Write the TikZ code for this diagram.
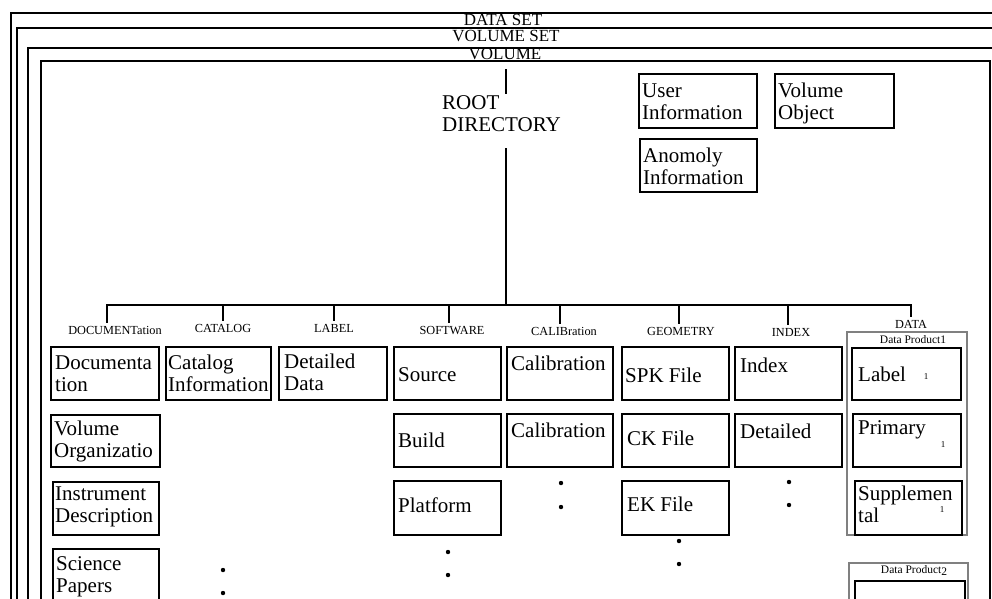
\documentclass[tikz,border=0pt]{standalone}
\usepackage{fontspec}
\setmainfont{Liberation Serif}
\usetikzlibrary{calc}
\newcommand\fsz[2]{\fontsize{#1}{#2}\selectfont}
% two-line text whose base anchor is the first baseline
\newcommand\twoln[2]{\parbox[t]{150pt}{#1\\#2}}
% framed file box: name, x, y (top left), width, height
\newcommand\fbx[5]{\node[fbox, minimum width=#4pt, minimum height=#5pt] (#1) at (#2,#3) {};}

\begin{document}
\begin{tikzpicture}[x=1pt,y=-1pt,
  frameline/.style={line width=1.8pt},
  fbox/.style={draw, line width=1.7pt, anchor=north west, inner sep=0pt, outer sep=0pt},
  btxt/.style={anchor=base west, inner sep=0pt, font=\fsz{21}{22.5}},
  ttl/.style={anchor=base, inner sep=0pt, font=\fsz{17}{17}},
  dirlbl/.style={anchor=base, inner ysep=3pt, inner xsep=0pt, font=\fsz{12.3}{13}},
  tree/.style={line width=1.6pt},
  dpframe/.style={draw=gray, line width=1.6pt, anchor=north west, inner sep=0pt, outer sep=0pt},
  dptitle/.style={anchor=base, inner sep=0pt, font=\fsz{11.5}{11.5}},
  idx/.style={inner sep=0pt, font=\fsz{9}{9}},
  bullet/.style={circle, fill=black, inner sep=0pt, minimum size=4.4pt}
]
\useasboundingbox (0,0) rectangle (992,598);
\fill[white] (0,0) rectangle (992,598);

% nested set frames
\draw[line width=2.4pt] (11,13) rectangle (1010,640);
\draw[frameline] (17,28) rectangle (1005,640);
\draw[frameline] (28,48) rectangle (1000,640);
\draw[frameline] (41,61) rectangle (990,640);
\node[ttl] (tDataSet) at (503,25) {DATA SET};
\node[ttl] (tVolSet) at (506,41) {VOLUME SET};
\node[ttl] (tVol) at (505,59.5) {VOLUME};

% root directory
\node[btxt] (root) at (442,109) {\twoln{ROOT}{DIRECTORY}};
\coordinate (rootIn) at (506,69);
\coordinate (rootA) at (506,94);
\coordinate (rootB) at (506,148);
\coordinate (bus) at (506,305);
\draw[tree] (rootIn) -- (rootA);
\draw[tree] (rootB) -- (bus);

% top level objects
\fbx{userBox}{639}{74}{118}{54}
\node[btxt] (userTxt) at (642,97) {\twoln{User}{Information}};
\fbx{volBox}{775}{74}{119}{54}
\node[btxt] (volTxt) at (778,97) {\twoln{Volume}{Object}};
\fbx{anomBox}{640}{139}{117}{53}
\node[btxt] (anomTxt) at (643,162) {\twoln{Anomoly}{Information}};

% subdirectory names
\node[dirlbl] (lDoc) at (115,334) {DOCUMENTation};
\node[dirlbl] (lCat) at (223,332) {CATALOG};
\node[dirlbl] (lLab) at (334,332) {LABEL};
\node[dirlbl] (lSoft) at (452,334) {SOFTWARE};
\node[dirlbl] (lCal) at (564,335) {CALIBration};
\node[dirlbl] (lGeo) at (681,335) {GEOMETRY};
\node[dirlbl] (lIdx) at (791,336) {INDEX};
\node[dirlbl] (lData) at (911,328) {DATA};

% directory tree
\coordinate (k1) at (107,305);
\coordinate (k2) at (223,305);
\coordinate (k3) at (334,305);
\coordinate (k4) at (449,305);
\coordinate (k5) at (560,305);
\coordinate (k6) at (679,305);
\coordinate (k7) at (788,305);
\coordinate (k8) at (911,305);
\draw[tree] (k1 |- lDoc.north) -- (k1) -- (k8) -- (k8 |- lData.north);
\draw[tree] (k2) -- (k2 |- lCat.north);
\draw[tree] (k3) -- (k3 |- lLab.north);
\draw[tree] (k4) -- (k4 |- lSoft.north);
\draw[tree] (k5) -- (k5 |- lCal.north);
\draw[tree] (k6) -- (k6 |- lGeo.north);
\draw[tree] (k7) -- (k7 |- lIdx.north);

% DOCUMENT
\fbx{docA}{51}{347}{108}{53}
\node[btxt] (docAt) at (55,369) {\twoln{Documenta}{tion}};
\fbx{docB}{51}{415}{109}{52}
\node[btxt] (docBt) at (54,435) {\twoln{Volume}{Organizatio}};
\fbx{docC}{53}{482}{106}{53}
\node[btxt] (docCt) at (55,500) {\twoln{Instrument}{Description}};
\fbx{docD}{53}{549}{106}{70}
\node[btxt] (docDt) at (56,570) {\twoln{Science}{Papers}};

% CATALOG
\fbx{catA}{166}{347}{105}{53}
\node[btxt] (catAt) at (168,369) {\twoln{Catalog}{Information}};
\node[bullet] (catD1) at (223,570) {};
\node[bullet] (catD2) at (223,593) {};

% LABEL
\fbx{labA}{279}{347}{108}{53}
\node[btxt] (labAt) at (284,368) {\twoln{Detailed}{Data}};

% SOFTWARE
\fbx{swA}{394}{347}{107}{53}
\node[btxt] (swAt) at (398,381) {Source};
\fbx{swB}{394}{414}{107}{53}
\node[btxt] (swBt) at (398,447) {Build};
\fbx{swC}{394}{481}{107}{54}
\node[btxt] (swCt) at (398,512) {Platform};
\node[bullet] (swD1) at (448,552) {};
\node[bullet] (swD2) at (448,575) {};

% CALIB
\fbx{calA}{507}{347}{106}{53}
\node[btxt] (calAt) at (511,370) {Calibration};
\fbx{calB}{507}{414}{106}{53}
\node[btxt] (calBt) at (511,437) {Calibration};
\node[bullet] (calD1) at (561,483) {};
\node[bullet] (calD2) at (561,507) {};

% GEOMETRY
\fbx{geoA}{622}{347}{107}{53}
\node[btxt] (geoAt) at (625,382) {SPK File};
\fbx{geoB}{622}{414}{107}{53}
\node[btxt] (geoBt) at (627,445) {CK File};
\fbx{geoC}{622}{481}{107}{54}
\node[btxt] (geoCt) at (627,511) {EK File};
\node[bullet] (geoD1) at (679,541) {};
\node[bullet] (geoD2) at (679,564) {};

% INDEX
\fbx{idxA}{735}{347}{107}{53}
\node[btxt] (idxAt) at (740,372) {Index};
\fbx{idxB}{735}{414}{107}{53}
\node[btxt] (idxBt) at (740,438) {Detailed};
\node[bullet] (idxD1) at (789,482) {};
\node[bullet] (idxD2) at (789,505) {};

% DATA: product 1
\node[dpframe, minimum width=120pt, minimum height=203pt] (dp1) at (847,332) {};
\node[dptitle] (dp1t) at (913,343) {Data Product1};
\fbx{dpA}{852}{348}{109}{52}
\node[btxt] (dpAt) at (858,381) {Label};
\node[idx] (dpAn) at (926,377) {1};
\fbx{dpB}{853}{414}{108}{53}
\node[btxt] (dpBt) at (858,434) {Primary};
\node[idx] (dpBn) at (943,445) {1};
\fbx{dpC}{855}{481}{107}{54}
\node[btxt] (dpCt) at (858,500) {\twoln{Supplemen}{tal}};
\node[idx] (dpCn) at (942,510) {1};

% DATA: product 2
\node[dpframe, minimum width=119pt, minimum height=70pt] (dp2) at (849,563) {};
\node[dptitle] (dp2t) at (914,573) {Data Product\raisebox{-2.5pt}{2}};
\fbx{dpD}{855}{581}{110}{40}
\end{tikzpicture}
\end{document}
